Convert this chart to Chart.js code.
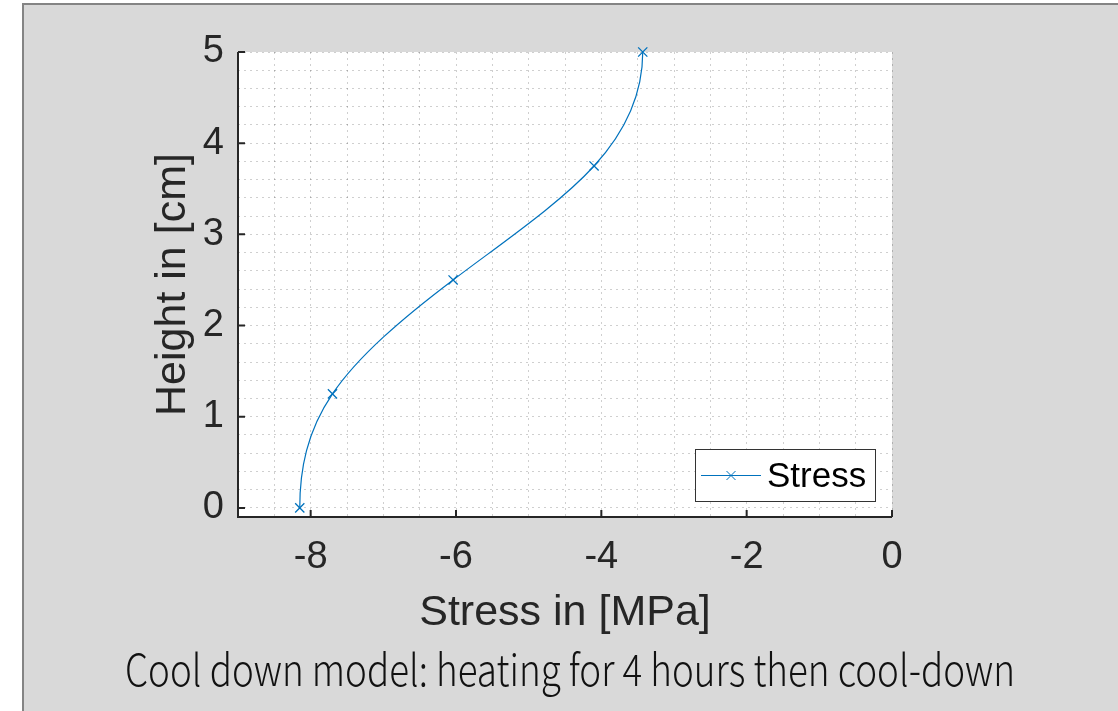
<!DOCTYPE html>
<html>
<head>
<meta charset="utf-8">
<script src="https://cdn.jsdelivr.net/npm/chart.js@4.4.1/dist/chart.umd.min.js"></script>
<style>
  html, body { margin: 0; padding: 0; background: #fff; }
  #wrap { width: 1118px; height: 711px; }
</style>
</head>
<body>
<div id="wrap"><canvas id="chart" width="1118" height="711"></canvas></div>
<script>
/* values */
const heights = [0, 1.25, 2.5, 3.75, 5];
const stress = [-8.15, -7.70, -6.04, -4.10, -3.43];
const xTickLabels = [-8, -6, -4, -2, 0];
const yTickLabels = [0, 1, 2, 3, 4, 5];

const seriesName = 'Stress';
const caption = 'Cool down model: heating for 4 hours then cool-down';

const axisColor = '#262626';
const blue = '#0072BD';
const sansFont = '"Liberation Sans", Arial, Helvetica, sans-serif';

function isLabelled(list, v) {
  return list.some(t => Math.abs(t - v) < 1e-6);
}

// slopes dv/dt of a cubic spline whose ends are flat (curve leaves top/bottom vertically)
function clampedSlopes(t, v) {
  const n = t.length;
  const h = [], d = [];
  for (let i = 0; i < n - 1; i++) {
    h.push(t[i + 1] - t[i]);
    d.push((v[i + 1] - v[i]) / h[i]);
  }
  const A = [];
  const b = [];
  for (let i = 0; i < n; i++) A.push(new Array(n).fill(0));
  A[0][0] = 1;
  b[0] = 0;
  for (let i = 1; i < n - 1; i++) {
    A[i][i - 1] = h[i];
    A[i][i] = 2 * (h[i] + h[i - 1]);
    A[i][i + 1] = h[i - 1];
    b[i] = 3 * (h[i] * d[i - 1] + h[i - 1] * d[i]);
  }
  A[n - 1][n - 1] = 1;
  b[n - 1] = 0;

  // plain gaussian elimination, n is tiny
  for (let c = 0; c < n; c++) {
    let p = c;
    for (let r = c + 1; r < n; r++) if (Math.abs(A[r][c]) > Math.abs(A[p][c])) p = r;
    [A[c], A[p]] = [A[p], A[c]];
    [b[c], b[p]] = [b[p], b[c]];
    for (let r = c + 1; r < n; r++) {
      const f = A[r][c] / A[c][c];
      for (let k = c; k < n; k++) A[r][k] -= f * A[c][k];
      b[r] -= f * b[c];
    }
  }
  const m = new Array(n).fill(0);
  for (let r = n - 1; r >= 0; r--) {
    let s = b[r];
    for (let k = r + 1; k < n; k++) s -= A[r][k] * m[k];
    m[r] = s / A[r][r];
  }
  return m;
}

/* the line is a spline of stress over height: hand chart.js the bezier handles */
const splineHandles = {
  id: 'splineHandles',
  beforeDatasetsDraw(chart) {
    const meta = chart.getDatasetMeta(0);
    const xs = chart.scales.x;
    const ys = chart.scales.y;
    const slopes = clampedSlopes(heights, stress);
    const pts = meta.data;
    pts.forEach((pt, i) => {
      const prev = i > 0 ? (heights[i] - heights[i - 1]) / 3 : 0;
      const next = i < pts.length - 1 ? (heights[i + 1] - heights[i]) / 3 : 0;
      pt.cp1x = xs.getPixelForValue(stress[i] - slopes[i] * prev);
      pt.cp1y = ys.getPixelForValue(heights[i] - prev);
      pt.cp2x = xs.getPixelForValue(stress[i] + slopes[i] * next);
      pt.cp2y = ys.getPixelForValue(heights[i] + next);
    });
    meta.dataset._pointsUpdated = true;
  }
};

/* grey figure background, axis lines, inward ticks, legend, caption */
const matlabLook = {
  id: 'matlabLook',
  beforeDraw(chart) {
    const ctx = chart.ctx;
    const ca = chart.chartArea;
    ctx.save();
    ctx.fillStyle = '#ffffff';
    ctx.fillRect(0, 0, chart.width, chart.height);
    ctx.fillStyle = '#d9d9d9';
    ctx.fillRect(22, 3, chart.width - 22, chart.height - 3);
    ctx.fillStyle = '#848484';
    ctx.fillRect(22, 3, 2, chart.height - 3);
    ctx.fillRect(22, 3, chart.width - 22, 2);
    ctx.fillStyle = '#ffffff';
    ctx.fillRect(ca.left, ca.top, ca.right - ca.left, ca.bottom - ca.top);
    ctx.restore();
  },
  afterDraw(chart) {
    const ctx = chart.ctx;
    const ca = chart.chartArea;
    const xs = chart.scales.x;
    const ys = chart.scales.y;
    ctx.save();

    // axis lines (left + bottom only)
    ctx.strokeStyle = axisColor;
    ctx.lineWidth = 2;
    ctx.beginPath();
    ctx.moveTo(ca.left, ca.top);
    ctx.lineTo(ca.left, ca.bottom);
    ctx.lineTo(ca.right, ca.bottom);
    ctx.stroke();

    // tick marks pointing inward
    ctx.beginPath();
    yTickLabels.forEach(v => {
      const py = ys.getPixelForValue(v);
      ctx.moveTo(ca.left, py);
      ctx.lineTo(ca.left + 7, py);
    });
    xTickLabels.forEach(v => {
      const px = xs.getPixelForValue(v);
      ctx.moveTo(px, ca.bottom);
      ctx.lineTo(px, ca.bottom - 7);
    });
    ctx.stroke();

    // legend box
    const ds = chart.data.datasets[0];
    const bx = 695.5, by = 449.5, bw = 180, bh = 52;
    ctx.fillStyle = '#ffffff';
    ctx.fillRect(bx, by, bw, bh);
    ctx.strokeStyle = '#333333';
    ctx.lineWidth = 1;
    ctx.strokeRect(bx, by, bw, bh);
    const ly = by + bh / 2;
    ctx.strokeStyle = ds.borderColor;
    ctx.beginPath();
    ctx.moveTo(701, ly);
    ctx.lineTo(761, ly);
    ctx.moveTo(731 - 4.5, ly - 4.5);
    ctx.lineTo(731 + 4.5, ly + 4.5);
    ctx.moveTo(731 - 4.5, ly + 4.5);
    ctx.lineTo(731 + 4.5, ly - 4.5);
    ctx.stroke();
    ctx.fillStyle = '#000000';
    ctx.font = '35px ' + sansFont;
    ctx.textAlign = 'left';
    ctx.textBaseline = 'middle';
    ctx.fillText(ds.label, 767, ly + 2);

    // caption under the figure, narrow thin font
    ctx.font = '300 44px "Noto Sans CJK KR", "Noto Sans", sans-serif';
    ctx.fillStyle = '#111111';
    ctx.textAlign = 'center';
    ctx.textBaseline = 'alphabetic';
    const w = ctx.measureText(caption).width;
    const sx = 890 / w;
    ctx.translate(570, 686);
    ctx.scale(sx, 1);
    ctx.fillText(caption, 0, 0);

    ctx.restore();
  }
};

const ctx = document.getElementById('chart').getContext('2d');

const chart = new Chart(ctx, {
  type: 'line',
  data: {
    datasets: [
      {
        label: seriesName,
        data: heights.map((h, i) => ({ x: stress[i], y: h })),
        borderColor: blue,
        backgroundColor: blue,
        borderWidth: 1.2,
        tension: 0.3,
        pointStyle: 'crossRot',
        pointRadius: 6.5,
        pointBorderWidth: 1.3,
        pointBorderColor: blue,
        fill: false,
        clip: false
      }
    ]
  },
  options: {
    indexAxis: 'y',
    responsive: false,
    animation: false,
    events: [],
    layout: {
      padding: { top: 52, right: 226, bottom: 0, left: 0 }
    },
    plugins: {
      legend: { display: false },
      tooltip: { enabled: false }
    },
    scales: {
      x: {
        type: 'linear',
        position: 'bottom',
        min: -9,
        max: 0,
        afterFit(s) { s.height = 194; },
        grid: {
          color: 'rgba(0,0,0,0.19)',
          lineWidth: 1,
          drawTicks: false
        },
        border: { display: false, dash: [2, 4] },
        ticks: {
          stepSize: 0.5,
          autoSkip: false,
          maxRotation: 0,
          padding: 18,
          color: axisColor,
          font: { family: sansFont, size: 38 },
          callback: v => isLabelled(xTickLabels, v) ? String(v) : ''
        },
        title: {
          display: true,
          text: 'Stress in [MPa]',
          color: axisColor,
          font: { family: sansFont, size: 43, lineHeight: 1 },
          padding: { top: 0, bottom: 76.5 }
        }
      },
      y: {
        type: 'linear',
        position: 'left',
        min: -0.1,
        max: 5,
        afterFit(s) { s.width = 238; },
        grid: {
          color: 'rgba(0,0,0,0.19)',
          lineWidth: 1,
          drawTicks: false
        },
        border: { display: false, dash: [2, 4] },
        ticks: {
          stepSize: 0.2,
          includeBounds: false,
          autoSkip: false,
          padding: 14,
          color: axisColor,
          font: { family: sansFont, size: 38 },
          callback: v => isLabelled(yTickLabels, v) ? String(v) : ''
        },
        title: {
          display: true,
          text: 'Height in [cm]',
          color: axisColor,
          font: { family: sansFont, size: 43, lineHeight: 1 },
          padding: { top: 151.4, bottom: 0 }
        }
      }
    }
  },
  plugins: [splineHandles, matlabLook]
});
</script>
</body>
</html>
